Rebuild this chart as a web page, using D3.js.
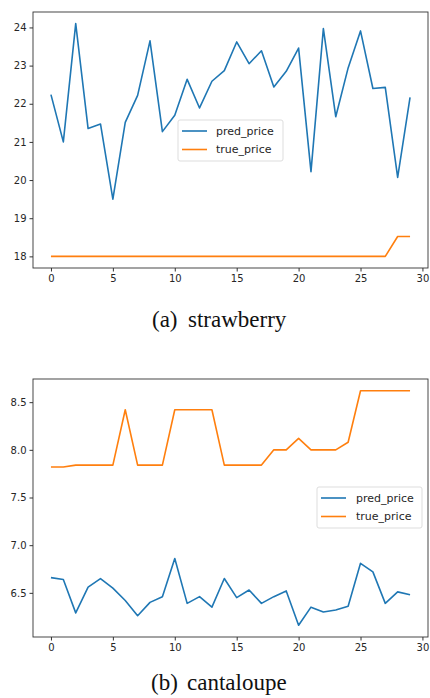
<!DOCTYPE html>
<html>
<head>
<meta charset="utf-8">
<script src="https://cdn.jsdelivr.net/npm/d3@7"></script>
<style>
  body { margin: 0; background: #fff; }
  .tick text { font-family: "DejaVu Sans", sans-serif; font-size: 10px; fill: #262626; }
  .tick line, .domain { stroke: #333; }
  .legend text { font-family: "DejaVu Sans", sans-serif; font-size: 11px; fill: #262626; }
  .caption { font-family: "Liberation Serif", "Times New Roman", serif; font-size: 23px; fill: #111; }
</style>
</head>
<body>
<script>
// x index of each sample
const days = d3.range(30);

// strawberry
const strawPred = [22.24, 21.0, 24.10, 21.35, 21.47, 19.5, 21.51, 22.22, 23.65, 21.27,
  21.70, 22.64, 21.89, 22.59, 22.87, 23.62, 23.05, 23.39, 22.44, 22.85,
  23.46, 20.22, 23.97, 21.66, 22.94, 23.91, 22.40, 22.43, 20.07, 22.17];
const strawTrue = [18, 18, 18, 18, 18, 18, 18, 18, 18, 18,
  18, 18, 18, 18, 18, 18, 18, 18, 18, 18,
  18, 18, 18, 18, 18, 18, 18, 18, 18.52, 18.52];

// cantaloupe
const cantPred = [6.66, 6.64, 6.29, 6.56, 6.65, 6.55, 6.42, 6.26, 6.40, 6.46,
  6.86, 6.39, 6.46, 6.35, 6.65, 6.45, 6.53, 6.39, 6.46, 6.52,
  6.16, 6.35, 6.30, 6.32, 6.36, 6.81, 6.72, 6.39, 6.51, 6.48];
const cantTrue = [7.82, 7.82, 7.84, 7.84, 7.84, 7.84, 8.42, 7.84, 7.84, 7.84,
  8.42, 8.42, 8.42, 8.42, 7.84, 7.84, 7.84, 7.84, 8.00, 8.00,
  8.12, 8.00, 8.00, 8.00, 8.08, 8.62, 8.62, 8.62, 8.62, 8.62];

const xTicks = [0, 5, 10, 15, 20, 25, 30];
const strawYTicks = [18, 19, 20, 21, 22, 23, 24];
const cantYTicks = [6.5, 7.0, 7.5, 8.0, 8.5];
const seriesNames = ['pred_price', 'true_price'];
const colors = ['#1f77b4', '#ff7f0e'];

const svg = d3.select('body').append('svg')
  .attr('width', 430)
  .attr('height', 698);

function panel(cfg) {
  const x = d3.scaleLinear().domain([-1.45, 30.45]).range([cfg.left, cfg.right]);
  const all = cfg.pred.concat(cfg.truth);
  const lo = d3.min(all), hi = d3.max(all), pad = (hi - lo) * 0.05;
  const y = d3.scaleLinear().domain([lo - pad, hi + pad]).range([cfg.bottom, cfg.top]);

  const g = svg.append('g');

  g.append('g')
    .attr('transform', `translate(0,${cfg.bottom})`)
    .call(d3.axisBottom(x).tickValues(xTicks).tickSize(3.5).tickSizeOuter(0).tickPadding(3))
    .call(a => a.select('.domain').remove());

  g.append('g')
    .attr('transform', `translate(${cfg.left},0)`)
    .call(d3.axisLeft(y).tickValues(cfg.yTicks).tickFormat(cfg.fmt).tickSize(3.5).tickSizeOuter(0).tickPadding(3))
    .call(a => a.select('.domain').remove());

  const line = d3.line().x((d, i) => x(days[i])).y(d => y(d));
  [cfg.pred, cfg.truth].forEach((s, k) => {
    g.append('path')
      .datum(s)
      .attr('d', line)
      .attr('fill', 'none')
      .attr('stroke', colors[k])
      .attr('stroke-width', 1.6)
      .attr('stroke-linejoin', 'round');
  });

  // frame
  g.append('rect')
    .attr('x', cfg.left).attr('y', cfg.top)
    .attr('width', cfg.right - cfg.left).attr('height', cfg.bottom - cfg.top)
    .attr('fill', 'none').attr('stroke', '#333').attr('stroke-width', 0.9);

  // legend
  const lg = g.append('g').attr('class', 'legend')
    .attr('transform', `translate(${cfg.legX},${cfg.legY})`);
  lg.append('rect')
    .attr('width', cfg.legW).attr('height', 41).attr('rx', 2)
    .attr('fill', '#fff').attr('fill-opacity', 0.8)
    .attr('stroke', '#ddd');
  seriesNames.forEach((name, k) => {
    const yy = 11 + k * 18.5;
    lg.append('line')
      .attr('x1', 4).attr('x2', 29).attr('y1', yy).attr('y2', yy)
      .attr('stroke', colors[k]).attr('stroke-width', 1.6);
    lg.append('text')
      .attr('x', cfg.textX).attr('y', yy).attr('dy', '0.35em')
      .text(name);
  });

  // sub-caption: label and name set apart like LaTeX subcaption
  svg.append('text')
    .attr('class', 'caption')
    .attr('x', cfg.capX).attr('y', cfg.capY)
    .text(cfg.label);
  svg.append('text')
    .attr('class', 'caption')
    .attr('x', cfg.capX + 36).attr('y', cfg.capY)
    .text(cfg.caption);
}

panel({
  left: 33, right: 428, top: 12, bottom: 268,
  pred: strawPred, truth: strawTrue,
  yTicks: strawYTicks, fmt: d3.format('d'),
  legX: 178, legY: 120, legW: 105, textX: 38,
  label: '(a)', caption: 'strawberry', capX: 152, capY: 327
});

panel({
  left: 33, right: 428, top: 379, bottom: 637,
  pred: cantPred, truth: cantTrue,
  yTicks: cantYTicks, fmt: d3.format('.1f'),
  legX: 317, legY: 487, legW: 105, textX: 39,
  label: '(b)', caption: 'cantaloupe', capX: 151, capY: 689.5
});
</script>
</body>
</html>
